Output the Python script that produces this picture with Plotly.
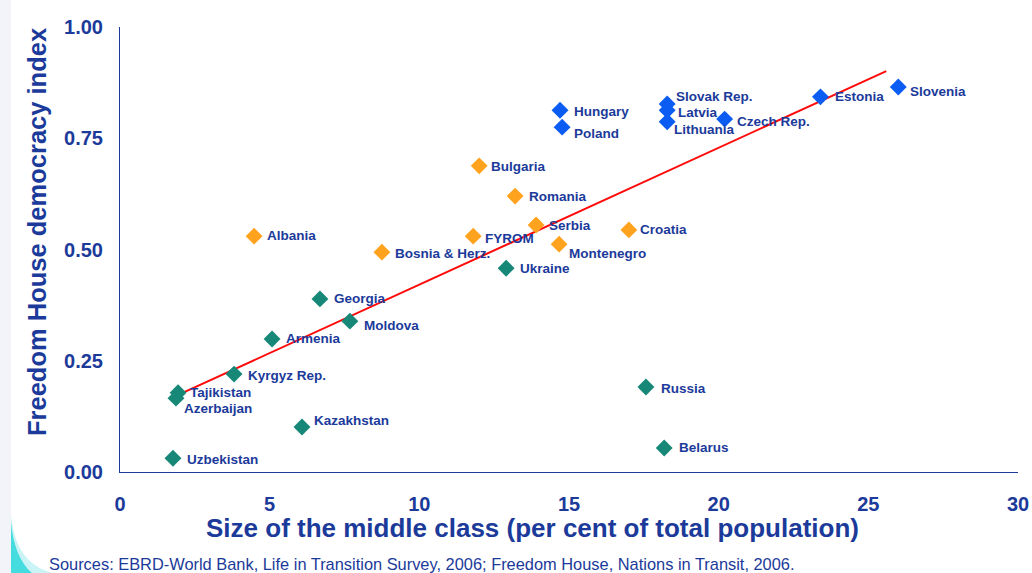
import plotly.graph_objects as go

# data
countries = ["Slovenia", "Estonia", "Czech Rep.", "Slovak Rep.", "Latvia", "Lithuania",
             "Hungary", "Poland",
             "Bulgaria", "Romania", "Serbia", "FYROM", "Croatia", "Montenegro",
             "Bosnia & Herz.", "Albania",
             "Ukraine", "Georgia", "Moldova", "Armenia", "Kyrgyz Rep.", "Tajikistan",
             "Azerbaijan", "Kazakhstan", "Uzbekistan", "Russia", "Belarus"]
middle_class = [26.0, 23.4, 20.2, 18.28, 18.28, 18.28, 14.7, 14.77,
                12.0, 13.2, 13.9, 11.8, 17.0, 14.67, 8.75, 4.48,
                12.9, 6.68, 7.68, 5.08, 3.81, 1.94, 1.87, 6.08, 1.77, 17.57, 18.18]
democracy = [0.865, 0.843, 0.793, 0.827, 0.813, 0.787, 0.813, 0.775,
             0.688, 0.62, 0.555, 0.53, 0.544, 0.512, 0.494, 0.53,
             0.458, 0.389, 0.339, 0.299, 0.220, 0.178, 0.166, 0.101, 0.031, 0.191, 0.054]
group = ["eu"] * 8 + ["see"] * 8 + ["cis"] * 11

trend_x = [1.87, 25.6]
trend_y = [0.171, 0.901]

x_ticks = [0, 5, 10, 15, 20, 25, 30]
y_ticks = [0, 0.25, 0.5, 0.75, 1.0]

colors = {"eu": "#0A5CF2", "see": "#FFA31F", "cis": "#178878"}
navy = "#1B3A9A"
font = "Liberation Sans"

W, H = 1032, 573
L, R, T, B = 120, 14, 27, 101


# pixel -> paper coordinates, for the decoration and titles
def px(x):
    return (x - L) / (W - L - R)


def py(y):
    return (H - B - y) / (H - T - B)


# label offsets in px (dx from marker, dy upward)
label_shift = {
    "Slovenia": (10, -4), "Estonia": (13, 0), "Czech Rep.": (10, -2), "Slovak Rep.": (7, 7),
    "Latvia": (9, -2), "Lithuania": (5, -8), "Hungary": (12, -1), "Poland": (10, -6),
    "Bulgaria": (10, -1), "Romania": (12, 0), "Serbia": (11, 0), "FYROM": (10, -2),
    "Croatia": (9, 0), "Montenegro": (8, -9), "Bosnia & Herz.": (11, -1), "Albania": (11, 1),
    "Ukraine": (12, 0), "Georgia": (12, 0), "Moldova": (12, -4), "Armenia": (12, 0),
    "Kyrgyz Rep.": (12, -1), "Tajikistan": (10, 0), "Azerbaijan": (6, -10),
    "Kazakhstan": (10, 7), "Uzbekistan": (12, -1), "Russia": (13, -1), "Belarus": (13, 0),
}

fig = go.Figure()

fig.add_trace(go.Scatter(
    x=trend_x, y=trend_y, mode="lines",
    line=dict(color="#FF0A0A", width=2), hoverinfo="skip",
))

for g in ["eu", "see", "cis"]:
    idx = [i for i, v in enumerate(group) if v == g]
    fig.add_trace(go.Scatter(
        x=[middle_class[i] for i in idx],
        y=[democracy[i] for i in idx],
        text=[countries[i] for i in idx],
        mode="markers",
        marker=dict(symbol="diamond", size=13, color=colors[g]),
        hovertemplate="%{text}: %{x}, %{y}<extra></extra>",
    ))

for name, xv, yv in zip(countries, middle_class, democracy):
    dx, dy = label_shift[name]
    fig.add_annotation(
        x=xv, y=yv, text=name, showarrow=False,
        xanchor="left", yanchor="middle", xshift=dx, yshift=dy,
        font=dict(family=font, size=13.5, color=navy, weight="bold"),
    )

# faint band on the left edge and the cyan swoosh in the corner
fig.add_shape(type="rect", xref="paper", yref="paper", layer="below",
              x0=px(0), x1=px(11), y0=py(H), y1=py(0),
              fillcolor="#F3F4F9", line=dict(width=0))
fig.add_shape(type="path", xref="paper", yref="paper", layer="below",
              path=f"M {px(11)},{py(515)} C {px(14)},{py(545)} {px(25)},{py(565)} {px(52)},{py(H)} "
                   f"L {px(11)},{py(H)} Z",
              fillcolor="#C9F3F4", line=dict(width=0))
fig.add_shape(type="path", xref="paper", yref="paper", layer="below",
              path=f"M {px(11)},{py(522)} C {px(13)},{py(545)} {px(20)},{py(563)} {px(32)},{py(H)} "
                   f"L {px(11)},{py(H)} Z",
              fillcolor="#45DCE0", line=dict(width=0))

fig.add_annotation(
    xref="paper", yref="paper", x=px(47), y=py(564), xanchor="left", yanchor="middle",
    text="Sources: EBRD-World Bank, Life in Transition Survey, 2006; Freedom House, Nations in Transit, 2006.",
    showarrow=False, font=dict(family=font, size=16.4, color=navy),
)

# axis titles
fig.add_annotation(
    xref="paper", yref="paper", x=px(532), y=py(528), xanchor="center", yanchor="middle",
    text="Size of the middle class (per cent of total population)", showarrow=False,
    font=dict(family=font, size=26, color=navy, weight="bold"),
)
fig.add_annotation(
    xref="paper", yref="paper", x=px(37), y=py(232), xanchor="center", yanchor="middle",
    text="Freedom House democracy index", showarrow=False, textangle=-90,
    font=dict(family=font, size=25.5, color=navy, weight="bold"),
)

fig.update_layout(
    width=W, height=H,
    margin=dict(l=L, r=R, t=T, b=B),
    paper_bgcolor="white", plot_bgcolor="white",
    showlegend=False,
    font=dict(family=font, color=navy),
    xaxis=dict(
        range=[0, 30], tickvals=x_ticks, ticktext=[str(v) for v in x_ticks],
        showgrid=False, zeroline=False, showline=True, linecolor=navy, linewidth=1,
        ticks="", ticklabelstandoff=14, automargin=False,
        tickfont=dict(family=font, size=20, color=navy, weight="bold"),
    ),
    yaxis=dict(
        range=[0, 1.0], tickvals=y_ticks, ticktext=[f"{v:.2f}" for v in y_ticks],
        showgrid=False, zeroline=False, showline=True, linecolor=navy, linewidth=1,
        ticks="", ticklabelstandoff=12, automargin=False,
        tickfont=dict(family=font, size=20, color=navy, weight="bold"),
    ),
)

# drop the page's default body margin so the figure fills the window exactly
fig.write_html("out.html", config={"displayModeBar": False},
               post_script="document.body.style.margin='0';document.body.style.overflow='hidden';")
